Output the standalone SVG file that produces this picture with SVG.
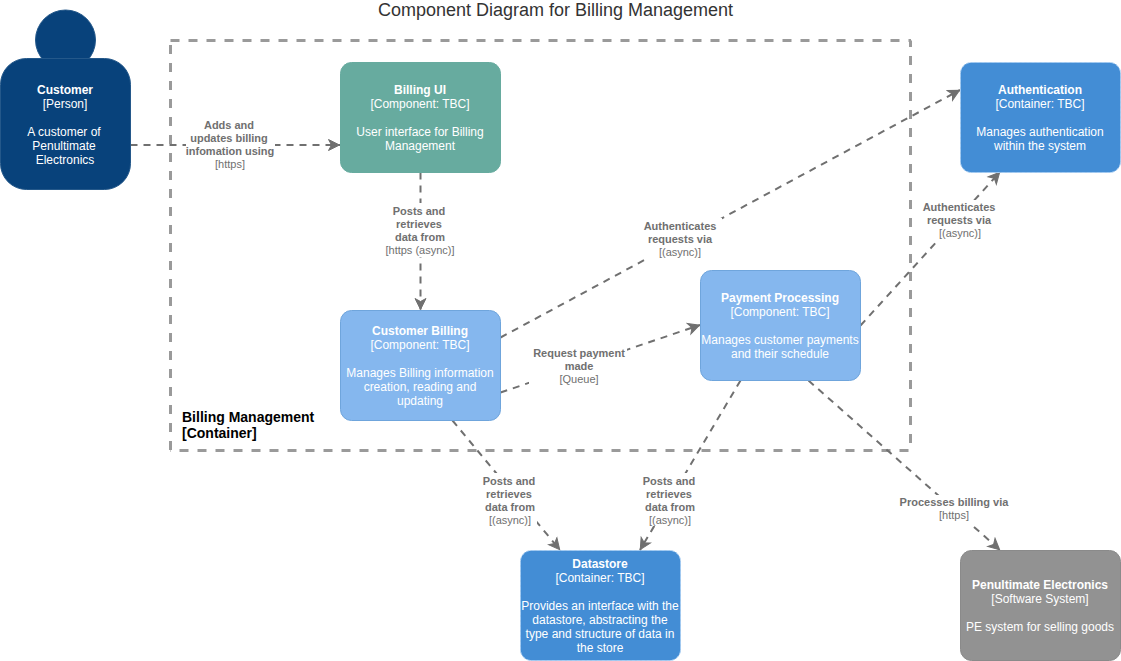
<svg xmlns="http://www.w3.org/2000/svg" width="1121" height="661" viewBox="0 0 1121 661">
<style>
text{font-family:"Liberation Sans",Arial,sans-serif;text-anchor:middle}
.n text{font-size:12px;fill:#fff}
.n .b{font-weight:bold}
.l{font-size:11px;fill:#707070}
.l .b{font-weight:bold}
.bg{fill:#fff}
.e{fill:none;stroke:#707070;stroke-width:2;stroke-dasharray:7 6}
.bd{fill:none;stroke:#9a9a9a;stroke-width:3;stroke-dasharray:9 9}
.ct{fill:#438dd5;stroke:#a3cbf3;stroke-width:1;stroke-dasharray:3 2}
</style>
<defs>
<marker id="a" viewBox="0 0 14 14" refX="12.500" refY="7" markerWidth="14" markerHeight="14" markerUnits="userSpaceOnUse" orient="auto"><path d="M1 1.500L12 7L1 12.500L4 7Z" fill="#707070" stroke="#707070" stroke-width="1"/></marker>
</defs>
<rect width="1121" height="661" fill="#fff"/>
<text x="555.5" y="15.500" font-size="18" fill="#333">Component Diagram for Billing Management</text>
<g id="boundary">
<path class="bd" d="M170.500 40.500H911"/>
<path class="bd" d="M910.500 40.500V451" stroke-dashoffset="2.500"/>
<path class="bd" d="M908.500 450.500H170"/>
<path class="bd" d="M170.500 45V451"/>
<text x="182" y="422" font-size="14" font-weight="bold" fill="#000" style="text-anchor:start">Billing Management</text>
<text x="182" y="438" font-size="14" font-weight="bold" fill="#000" style="text-anchor:start">[Container]</text>
</g>
<g id="connectors">
<path class="e" marker-end="url(#a)" d="M130.500 145L340 145"/>
<path class="e" marker-end="url(#a)" d="M420.500 172.500L420.500 310"/>
<path class="e" marker-end="url(#a)" d="M500.500 337.500L960 90"/>
<path class="e" marker-end="url(#a)" d="M500.500 392.500L700 325"/>
<path class="e" marker-end="url(#a)" d="M452.500 420.500L560 550"/>
<path class="e" marker-end="url(#a)" d="M740.500 380.500L640 550"/>
<path class="e" marker-end="url(#a)" d="M860.500 325.500L1000 172"/>
<path class="e" marker-end="url(#a)" d="M808.500 380.500L1000 550"/>
</g>
<g id="labels" class="l">
<rect class="bg" x="186" y="119" width="89" height="52"/>
<text class="b" x="229" y="129">Adds and</text><text class="b" x="229" y="142">updates billing</text><text class="b" x="230" y="155">infomation using</text><text x="230" y="168">[https]</text>
<rect class="bg" x="385" y="203" width="71" height="54"/>
<text class="b" x="419" y="215">Posts and</text><text class="b" x="419" y="228">retrieves</text><text class="b" x="420" y="241">data from</text><text x="420" y="254">[https (async)]</text>
<rect class="bg" x="646" y="218" width="76" height="42"/>
<text class="b" x="680" y="230">Authenticates</text><text class="b" x="680" y="243">requests via</text><text x="680" y="256">[(async)]</text>
<rect class="bg" x="529" y="346" width="98" height="42"/>
<text class="b" x="579" y="357">Request payment</text><text class="b" x="579" y="370">made</text><text x="579" y="383">[Queue]</text>
<rect class="bg" x="483" y="473" width="54" height="53"/>
<text class="b" x="509" y="485">Posts and</text><text class="b" x="509" y="498">retrieves</text><text class="b" x="510" y="511">data from</text><text x="510" y="524">[(async)]</text>
<rect class="bg" x="643" y="473" width="53" height="53"/>
<text class="b" x="669" y="485">Posts and</text><text class="b" x="669" y="498">retrieves</text><text class="b" x="670" y="511">data from</text><text x="670" y="524">[(async)]</text>
<rect class="bg" x="922" y="200" width="74" height="41"/>
<text class="b" x="959" y="211">Authenticates</text><text class="b" x="959" y="224">requests via</text><text x="960" y="237">[(async)]</text>
<rect class="bg" x="900" y="495" width="110" height="29"/>
<text class="b" x="954" y="506">Processes billing via</text><text x="954" y="519">[https]</text>
</g>
<g id="customer" class="n">
<circle cx="65.500" cy="40" r="30" fill="#08427b" stroke="#24588a" stroke-width="1"/>
<rect x="0.500" y="58.500" width="130" height="131" rx="26" fill="#08427b" stroke="#24588a" stroke-width="1"/>
<text class="b" x="65" y="94">Customer</text><text x="65" y="108">[Person]</text><text x="64" y="136">A customer of</text><text x="64" y="150">Penultimate</text><text x="65" y="164">Electronics</text>
</g>
<g id="billing-ui" class="n">
<rect x="340.500" y="62.500" width="160" height="110" rx="11" fill="#67ab9f" stroke="#67ab9f"/>
<text class="b" x="420" y="94">Billing UI</text><text x="420" y="108">[Component: TBC]</text><text x="420" y="136">User interface for Billing</text><text x="420" y="150">Management</text>
</g>
<g id="customer-billing" class="n">
<rect x="340.500" y="310.500" width="160" height="110" rx="11" fill="#85b7ee" stroke="#6fa5dc"/>
<text class="b" x="420" y="335">Customer Billing</text><text x="420" y="349">[Component: TBC]</text><text x="420" y="377">Manages Billing information</text><text x="420" y="391">creation, reading and</text><text x="420" y="405">updating</text>
</g>
<g id="payment-processing" class="n">
<rect x="700.500" y="270.500" width="160" height="110" rx="11" fill="#85b7ee" stroke="#6fa5dc"/>
<text class="b" x="780" y="302">Payment Processing</text><text x="780" y="316">[Component: TBC]</text><text x="780" y="344">Manages customer payments</text><text x="780" y="358">and their schedule</text>
</g>
<g id="authentication" class="n">
<rect class="ct" x="960.500" y="62.500" width="160" height="110" rx="11"/>
<text class="b" x="1040" y="94">Authentication</text><text x="1040" y="108">[Container: TBC]</text><text x="1040" y="136">Manages authentication</text><text x="1040" y="150">within the system</text>
</g>
<g id="datastore" class="n">
<rect class="ct" x="520.500" y="550.500" width="160" height="110" rx="11"/>
<text class="b" x="600" y="568">Datastore</text><text x="600" y="582">[Container: TBC]</text><text x="600" y="610">Provides an interface with the</text><text x="600" y="624">datastore, abstracting the</text><text x="600" y="638">type and structure of data in</text><text x="600" y="652">the store</text>
</g>
<g id="penultimate-electronics" class="n">
<rect x="960.500" y="550.500" width="160" height="110" rx="11" fill="#929292" stroke="#8a8a8a"/>
<text class="b" x="1040" y="589">Penultimate Electronics</text><text x="1040" y="603">[Software System]</text><text x="1040" y="631">PE system for selling goods</text>
</g>
</svg>
